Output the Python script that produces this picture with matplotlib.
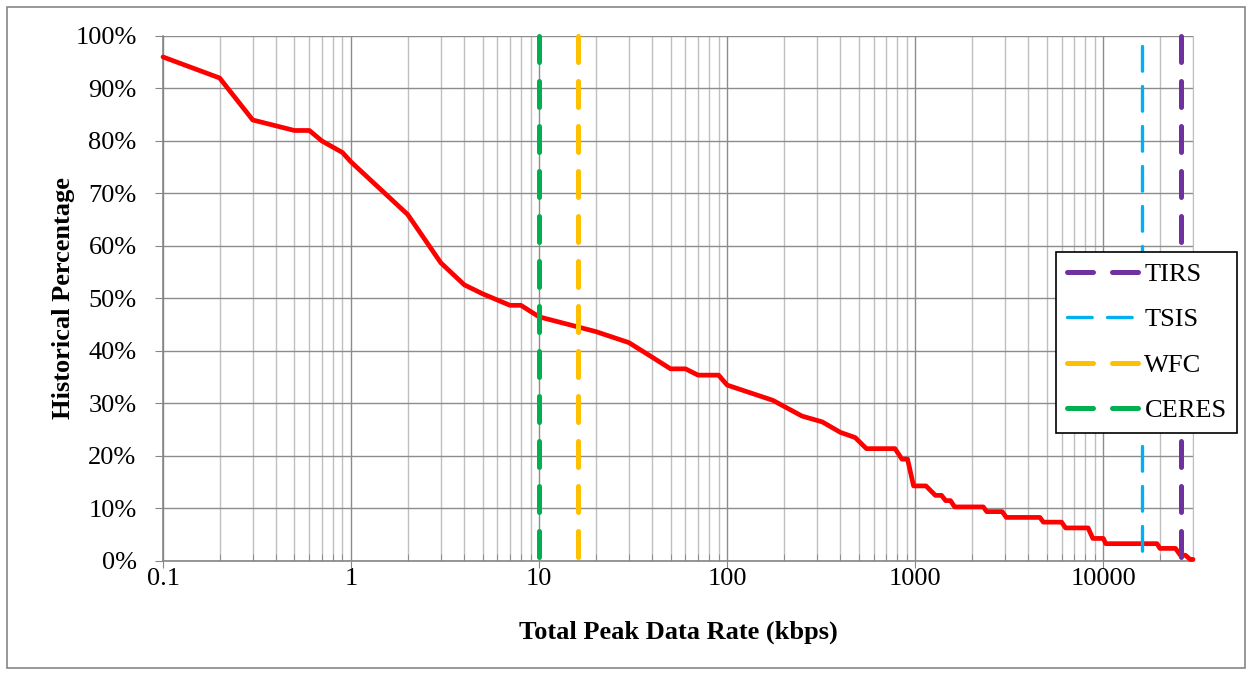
import matplotlib
matplotlib.use('Agg')
import matplotlib.pyplot as plt
from matplotlib.lines import Line2D
from matplotlib.patches import Rectangle
from matplotlib.ticker import LogLocator, FuncFormatter, PercentFormatter, MultipleLocator

plt.rcParams['font.family'] = ['Liberation Serif', 'DejaVu Serif']

# Historical cumulative share of missions vs. total peak data rate
rate_kbps = [0.1, 0.2, 0.3, 0.5, 0.6, 0.7, 0.9, 1, 2, 3, 4, 5, 7, 8, 10, 20, 30, 40,
             50, 60, 70, 90, 100, 175, 250, 320, 400, 480, 550, 780, 850, 910, 980,
             1140, 1280, 1380, 1450, 1540, 1620, 2300, 2400, 2900, 3050, 4600, 4800,
             6000, 6300, 8300, 8800, 10000, 10300, 19300, 20000, 24200, 25700, 27300,
             29000, 30000]
history_pct = [96.0, 92.0, 84.0, 82.0, 82.0, 80.0, 77.8, 76.0, 66.0, 56.8, 52.6, 50.9,
               48.7, 48.7, 46.5, 43.7, 41.6, 38.8, 36.6, 36.6, 35.4, 35.4, 33.5, 30.6,
               27.6, 26.5, 24.5, 23.5, 21.4, 21.4, 19.4, 19.4, 14.3, 14.3, 12.5, 12.5,
               11.5, 11.5, 10.3, 10.3, 9.4, 9.4, 8.3, 8.3, 7.4, 7.4, 6.3, 6.3, 4.3, 4.3,
               3.3, 3.3, 2.4, 2.4, 1.1, 1.1, 0.3, 0.3]

# Instrument data rates (kbps)
instruments = ['TIRS', 'TSIS', 'WFC', 'CERES']
instrument_rate = [26000, 16000, 16, 10]
instrument_color = ['#7030A0', '#00B0F0', '#FFC000', '#00B050']

FS = 19

fig = plt.figure(figsize=(12.52, 6.75), dpi=100)
ax = fig.add_axes([0.1302, 0.1689, 0.8227, 0.7778])

ax.plot(rate_kbps, history_pct, color='#FF0000', lw=3.4, solid_joinstyle='round',
        solid_capstyle='round', clip_on=False, zorder=3)

handles = []
for name, xr, col in zip(instruments, instrument_rate, instrument_color):
    if name == 'TSIS':
        lw, dash, offset = 2.4, (7.4, 4.6), 9.0
    else:
        lw, dash, offset = 3.6, (5.2, 3.8), 0
    ax.plot([xr, xr], [100, 0], color=col, lw=lw, linestyle=(offset, dash),
            dash_capstyle='round', clip_on=False, zorder=4)
    handles.append(Line2D([], [], color=col, lw=lw, linestyle=(0, dash),
                          dash_capstyle='round'))

ax.set_xscale('log')
ax.set_xlim(0.1, 30000)
ax.set_ylim(0, 100)

ax.xaxis.set_major_locator(LogLocator(base=10, numticks=10))
ax.xaxis.set_minor_locator(LogLocator(base=10, subs=range(2, 10), numticks=20))
ax.xaxis.set_major_formatter(FuncFormatter(lambda v, p: f'{v:g}'))
ax.yaxis.set_major_locator(MultipleLocator(10))
ax.yaxis.set_major_formatter(PercentFormatter(100, decimals=0))

ax.grid(which='major', color='#8c8c8c', lw=1.0)
ax.grid(which='minor', axis='x', color='#bfbfbf', lw=1.0)
ax.set_axisbelow(True)

ax.spines['top'].set_visible(False)
ax.spines['right'].set_color('#bfbfbf')
for side in ['left', 'bottom']:
    ax.spines[side].set_color('#868686')
    ax.spines[side].set_linewidth(1.2)

ax.tick_params(axis='y', which='major', length=6, color='#868686', pad=13,
               labelsize=FS)
ax.tick_params(axis='x', which='major', length=5, color='#868686', pad=0,
               labelsize=FS)
ax.tick_params(axis='x', which='minor', direction='in', length=5, color='#868686')

ax.set_xlabel('Total Peak Data Rate (kbps)', fontsize=FS, fontweight='bold',
              labelpad=22)
ax.set_ylabel('Historical Percentage', fontsize=FS, fontweight='bold',
              labelpad=0)

leg = fig.legend(handles, instruments,
                 loc='upper left', bbox_to_anchor=(0.8435, 0.6267),
                 bbox_transform=fig.transFigure, fontsize=FS, frameon=True,
                 fancybox=False, edgecolor='black', framealpha=1,
                 handlelength=2.7, labelspacing=0.83, borderpad=0.4,
                 borderaxespad=0, handletextpad=0.25)
leg.get_frame().set_linewidth(1.2)

# outer chart border
fig.patches.append(Rectangle((7 / 1252, 7 / 675), 1238 / 1252, 661 / 675,
                             transform=fig.transFigure, fill=False,
                             edgecolor='#868686', lw=1.2))

fig.savefig('out.png', dpi=100)
